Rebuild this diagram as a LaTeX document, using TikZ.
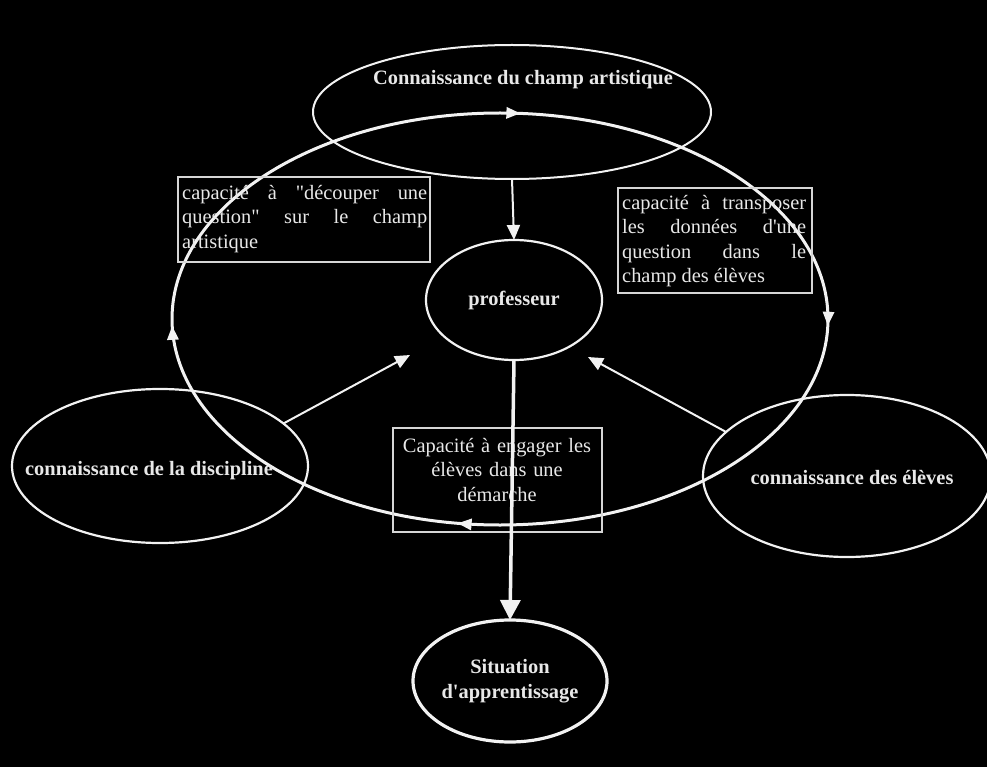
\documentclass[tikz,border=0pt]{standalone}
\usepackage{fontspec}
\setmainfont{Liberation Serif}[Ligatures=TeXOff]
\usetikzlibrary{arrows.meta,decorations.markings,shapes.geometric}
\definecolor{txt}{HTML}{E8E8E8}
\definecolor{ln}{HTML}{F2F2F2}
\definecolor{bx}{HTML}{D6D6D6}
\hyphenpenalty=10000
\exhyphenpenalty=10000
\tolerance=9999
\begin{document}
\begin{tikzpicture}[x=1pt,y=1pt,
  lbl/.style={text=txt, font=\fontsize{20.4}{24.5}\selectfont\bfseries, inner sep=0pt, align=center},
  body/.style={text=txt, font=\fontsize{20.4}{24.5}\selectfont, inner sep=0pt},
  oval/.style={draw=ln, ellipse, inner sep=0pt, outer sep=0pt},
  boxst/.style={draw=bx, line width=1.6pt, rectangle, inner sep=0pt, outer sep=0pt},
  thinarrow/.style={draw=ln, line width=2pt, -{Triangle[length=15pt,width=13pt]}},
  cyclearrow/.style={draw=ln, line width=3pt, postaction={decorate},
    decoration={markings,
      mark=at position 0.004 with {\arrow{Triangle[length=14pt,width=11pt]}},
      mark=at position 0.275 with {\arrow{Triangle[length=14pt,width=11pt]}},
      mark=at position 0.496 with {\arrow{Triangle[length=14pt,width=11pt]}},
      mark=at position 0.762 with {\arrow{Triangle[length=14pt,width=11pt]}}}}]
\fill[black] (0,0) rectangle (987,-767);
\useasboundingbox (0,0) rectangle (987,-767);
\clip (0,0) rectangle (987,-767);

% big cycle
\draw[cyclearrow] (828,-319) arc[start angle=0,end angle=-360,x radius=328pt,y radius=206pt];

% ellipses
\node[oval, line width=2pt, minimum width=398pt, minimum height=134pt] (champ) at (512,-112) {};
\node[lbl] (champT) at (523,-80) {Connaissance du champ artistique};

\node[oval, line width=2.2pt, minimum width=176pt, minimum height=120pt, lbl] (prof) at (514,-300) {professeur};

\node[oval, line width=2.2pt, minimum width=296pt, minimum height=154pt] (disc) at (160,-466) {};
\node[lbl] (discT) at (149,-471) {connaissance de la discipline};

\node[oval, line width=2.2pt, minimum width=288pt, minimum height=162pt] (elev) at (847,-476) {};
\node[lbl] (elevT) at (852,-478) {connaissance des élèves};

\node[oval, line width=3.2pt, minimum width=194pt, minimum height=122pt, lbl] (sit) at (510,-681) {Situation\\d'apprentissage};

% boxes
\node[boxst, minimum width=252pt, minimum height=85pt, anchor=north west] (b1) at (178,-177) {};
\node[body, anchor=north west, text width=245pt, align=justify] (b1t) at (182,-185) {capacité à "découper une question" sur le champ artistique};

\node[boxst, minimum width=194pt, minimum height=105pt, anchor=north west] (b2) at (618,-188) {};
\node[body, anchor=north west, text width=184pt, align=justify] (b2t) at (622,-195) {capacité à transposer les données d'une question dans le champ des élèves};

\node[boxst, minimum width=209pt, minimum height=104pt, anchor=north west] (b3) at (393,-428) {};
\node[body, anchor=north, text width=205pt, align=center] (b3t) at (497,-438) {Capacité à engager les\\élèves dans une\\démarche};

% connectors
\coordinate (tipL) at (410,-355);
\coordinate (tipR) at (588,-357);
\draw[thinarrow] (champ.south) -- (prof.north);
\draw[thinarrow] (disc.19) -- (tipL);
\draw[thinarrow] (elev.160) -- (tipR);
\draw[draw=ln, line width=3.5pt, -{Triangle[length=20pt,width=20pt]}] (prof.south) -- (sit.north);
\end{tikzpicture}
\end{document}
